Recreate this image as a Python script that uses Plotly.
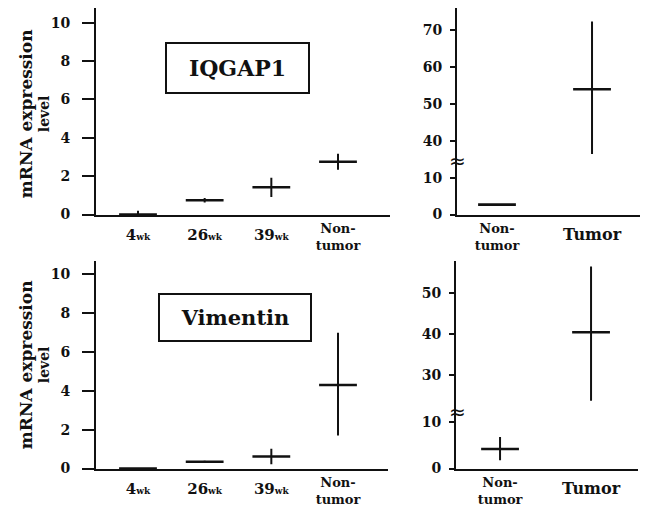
import plotly.graph_objects as go

# ---------------- data ----------------
SHIFT = "baseline-shift:-7px"
week_labels = [f"<span style='{SHIFT}'><span style='font-size:15px'>4</span><span style='font-size:9px'>wk</span></span>",
               f"<span style='{SHIFT}'><span style='font-size:15px'>26</span><span style='font-size:9px'>wk</span></span>",
               f"<span style='{SHIFT}'><span style='font-size:15px'>39</span><span style='font-size:9px'>wk</span></span>",
               "Non-<br>tumor"]
iqgap1_week_mean = [0.0, 0.75, 1.42, 2.75]
iqgap1_week_err = [0.2, 0.12, 0.5, 0.42]
vimentin_week_mean = [0.0, 0.35, 0.62, 4.3]
vimentin_week_err_plus = [0.0, 0.05, 0.4, 2.7]
vimentin_week_err_minus = [0.0, 0.05, 0.4, 2.6]

tn_labels = ["Non-<br>tumor", f"<span style='font-size:16px;{SHIFT}'>Tumor</span>"]
iqgap1_tn_mean = [2.7, 54.0]
iqgap1_tn_err_plus = [0.2, 18.3]
iqgap1_tn_err_minus = [0.2, 17.5]
vimentin_tn_mean = [4.2, 40.5]
vimentin_tn_err_plus = [2.6, 16.1]
vimentin_tn_err_minus = [2.4, 16.8]

y_ticks_week = [0, 2, 4, 6, 8, 10]
iqgap1_low_ticks = [0, 10]
iqgap1_high_ticks = [40, 50, 60, 70]
vimentin_low_ticks = [0, 10]
vimentin_high_ticks = [30, 40, 50]

# ---------------- helpers ----------------
W, H = 647, 510
def PX(x):
    return x / W
def PY(y):
    return 1 - y / H

FONT = "DejaVu Serif"
INK = "#111111"

def cross(x, y, plus, minus, xa, ya, clip=True):
    return go.Scatter(
        x=x, y=y, xaxis=xa, yaxis=ya, mode="markers", cliponaxis=clip,
        marker=dict(symbol="line-ew", size=27, color=INK,
                    line=dict(width=2.6, color=INK)),
        error_y=dict(type="data", symmetric=False, array=plus, arrayminus=minus,
                     width=0, thickness=2, color=INK),
        showlegend=False, hoverinfo="y")

fig = go.Figure()
idx4 = list(range(len(week_labels)))
idx2 = list(range(len(tn_labels)))

fig.add_trace(cross(idx4, iqgap1_week_mean, iqgap1_week_err, iqgap1_week_err, "x", "y", False))
fig.add_trace(cross(idx4, vimentin_week_mean, vimentin_week_err_plus, vimentin_week_err_minus, "x2", "y2", False))
for xa, ya in (("x3", "y3"), ("x4", "y4")):
    fig.add_trace(cross(idx2, iqgap1_tn_mean, iqgap1_tn_err_plus, iqgap1_tn_err_minus, xa, ya))
for xa, ya in (("x5", "y5"), ("x6", "y6")):
    fig.add_trace(cross(idx2, vimentin_tn_mean, vimentin_tn_err_plus, vimentin_tn_err_minus, xa, ya))

tickfont = dict(family=FONT, size=14, color=INK, weight="bold")
xfont = dict(family=FONT, size=13, color=INK, weight="bold")

def yax(domain, rng, ticks, anchor, ticklen=12, standoff=9):
    return dict(domain=domain, range=rng, tickvals=ticks, ticks="outside",
                ticklen=ticklen, tickwidth=1.5, tickcolor=INK, showline=True,
                linewidth=2, linecolor=INK, showgrid=False, zeroline=False,
                tickfont=tickfont, anchor=anchor, ticklabelstandoff=standoff)

def xax(domain, rng, labels, anchor, show=True):
    return dict(domain=domain, range=rng, tickvals=list(range(len(labels))),
                ticktext=labels, showline=show, showticklabels=show, linewidth=2,
                linecolor=INK, ticks="", showgrid=False, zeroline=False,
                tickfont=xfont, anchor=anchor, ticklabelstandoff=1)

fig.update_layout(
    xaxis=xax([PX(96), PX(390)], [-0.63, 3.78], week_labels, "y"),
    yaxis=yax([PY(218), PY(8)], [0, 10.77], y_ticks_week, "x"),
    xaxis2=xax([PX(96), PX(388)], [-0.63, 3.75], week_labels, "y2"),
    yaxis2=yax([PY(476), PY(265)], [0, 10.7], y_ticks_week, "x2"),
    xaxis3=xax([PX(457), PX(640)], [-0.421, 1.505], tn_labels, "y3"),
    yaxis3=yax([PY(218), PY(162)], [0, 15], iqgap1_low_ticks, "x3", 5, 5),
    xaxis4=xax([PX(457), PX(640)], [-0.421, 1.505], tn_labels, "y4", show=False),
    yaxis4=yax([PY(162), PY(8)], [35, 76], iqgap1_high_ticks, "x4", 5, 5),
    xaxis5=xax([PX(456), PX(638)], [-0.484, 1.516], tn_labels, "y5"),
    yaxis5=yax([PY(476), PY(417)], [0, 12.5], vimentin_low_ticks, "x5", 5, 5),
    xaxis6=xax([PX(456), PX(638)], [-0.484, 1.516], tn_labels, "y6", show=False),
    yaxis6=yax([PY(417), PY(265)], [21.3, 58], vimentin_high_ticks, "x6", 5, 5),
)

ann = []
for yc in (116, 371):
    ann.append(dict(x=PX(26), y=PY(yc), xref="paper", yref="paper", text="mRNA expression",
                    textangle=-90, showarrow=False, xanchor="center", yanchor="middle",
                    font=dict(family=FONT, size=17, color=INK, weight="bold")))
    ann.append(dict(x=PX(44), y=PY(yc), xref="paper", yref="paper", text="level",
                    textangle=-90, showarrow=False, xanchor="center", yanchor="middle",
                    font=dict(family=FONT, size=14, color=INK, weight="bold")))
ann.append(dict(x=PX(237.5), y=PY(69), xref="paper", yref="paper", text="IQGAP1",
                showarrow=False, xanchor="center", yanchor="middle",
                font=dict(family=FONT, size=22, color=INK, weight="bold"),
                width=141, height=48, borderpad=0, bordercolor=INK, borderwidth=2, bgcolor="white"))
ann.append(dict(x=PX(235), y=PY(322.5), xref="paper", yref="paper", text="Vimentin",
                showarrow=False, xanchor="center", yanchor="middle",
                font=dict(family=FONT, size=21, color=INK, weight="bold"),
                width=150, height=45, borderpad=0, bordercolor=INK, borderwidth=2, bgcolor="white"))
for yb in (164, 419):
    ann.append(dict(x=PX(457), y=PY(yb), xref="paper", yref="paper", text="≈",
                    showarrow=False, xanchor="center", yanchor="middle",
                    font=dict(family="DejaVu Sans", size=20, color=INK)))

fig.update_layout(
    width=W, height=H, margin=dict(l=0, r=0, t=0, b=0),
    paper_bgcolor="white", plot_bgcolor="white", annotations=ann,
    showlegend=False,
)

fig.write_html("out.html")
